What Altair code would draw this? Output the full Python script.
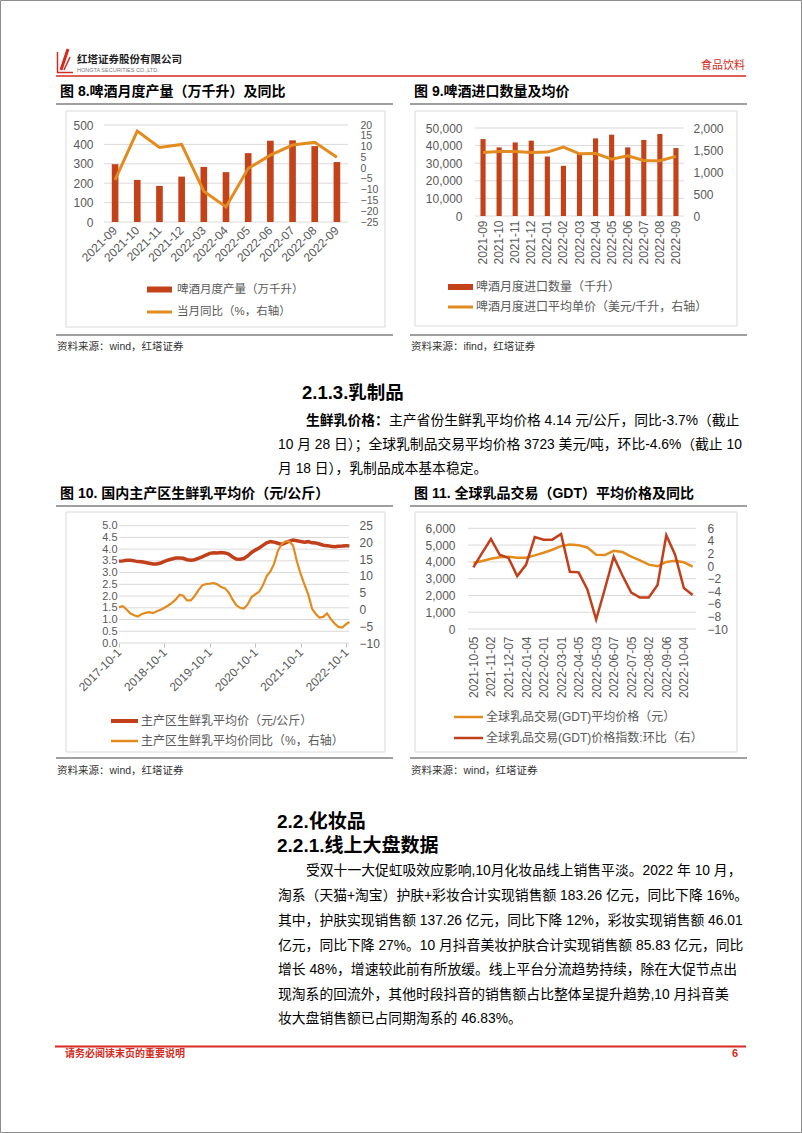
import altair as alt
import pandas as pd

W, H = 802, 1133
NUM_FONT = "Liberation Sans, Arial, sans-serif"
MIX_FONT = "Liberation Sans, Noto Sans CJK SC, sans-serif"
AX = "#595959"
GRID = "#D9D9D9"
BAR = "#C4421A"
ORANGE = "#E38B1E"
RED = "#C23F1B"
HDR_RED = "#D42A20"

# ---------------- data ----------------
beer_months = ["2021-09", "2021-10", "2021-11", "2021-12", "2022-03", "2022-04",
               "2022-05", "2022-06", "2022-07", "2022-08", "2022-09"]
beer_output = [298, 217, 186, 234, 284, 257, 355, 419, 421, 391, 309]
beer_yoy = [-5.5, 17.2, 9.6, 11.0, -10.7, -18.0, -0.2, 6.0, 10.7, 12.0, 5.0]
beer_left_ticks = [0, 100, 200, 300, 400, 500]
beer_right_ticks = [-25, -20, -15, -10, -5, 0, 5, 10, 15, 20]

imp_months = ["2021-09", "2021-10", "2021-11", "2021-12", "2022-01", "2022-02", "2022-03",
              "2022-04", "2022-05", "2022-06", "2022-07", "2022-08", "2022-09"]
imp_volume = [43700, 39000, 41800, 42800, 33800, 28500, 35200, 44100, 46200, 39000, 43200, 46600, 38600]
imp_price = [1445, 1468, 1468, 1445, 1452, 1567, 1414, 1422, 1293, 1369, 1262, 1255, 1354]
imp_left_ticks = [0, 10000, 20000, 30000, 40000, 50000]
imp_right_ticks = [0, 500, 1000, 1500, 2000]

milk_dates = [f"{y}/{m:02d}/01" for y, m in
              [(2017, 10), (2017, 11), (2017, 12)] +
              [(y, m) for y in (2018, 2019, 2020, 2021) for m in range(1, 13)] +
              [(2022, m) for m in range(1, 11)]] + ["2022/10/28"]
milk_price = [3.48, 3.50, 3.53,
              3.53, 3.50, 3.47, 3.46, 3.43, 3.40, 3.37, 3.37, 3.41, 3.48, 3.54, 3.58,
              3.62, 3.62, 3.61, 3.55, 3.53, 3.55, 3.61, 3.67, 3.75, 3.82, 3.85, 3.84,
              3.86, 3.84, 3.79, 3.67, 3.58, 3.57, 3.60, 3.71, 3.86, 3.96, 4.05, 4.16,
              4.27, 4.32, 4.30, 4.25, 4.20, 4.27, 4.34, 4.39, 4.36, 4.33, 4.30, 4.32,
              4.27, 4.26, 4.22, 4.17, 4.15, 4.12, 4.10, 4.12, 4.13, 4.15, 4.14]
milk_yoy = [0.7, 1.0, 0.0,
            -1.2, -1.7, -2.1, -1.4, -1.0, -0.8, -1.1, -0.5, -0.1, 0.5, 1.2, 2.0,
            3.0, 4.4, 4.1, 2.7, 2.7, 4.0, 5.7, 7.2, 7.6, 7.7, 7.9, 7.5,
            6.7, 6.3, 5.1, 3.0, 1.3, 0.5, 0.3, 1.5, 3.7, 4.5, 5.3, 7.2,
            10.0, 11.4, 13.6, 17.5, 19.5, 20.3, 20.3, 19.1, 14.3, 10.6, 7.4, 4.5,
            0.2, -1.4, -2.4, -2.2, -1.2, -2.9, -4.2, -5.2, -5.4, -4.4, -3.7]
milk_left_ticks = [0, 0.5, 1.0, 1.5, 2.0, 2.5, 3.0, 3.5, 4.0, 4.5, 5.0]
milk_right_ticks = [-10, -5, 0, 5, 10, 15, 20, 25]
milk_year_ticks = [2017, 2018, 2019, 2020, 2021, 2022]

gdt_dates = ["2021-10-05", "2021-10-19", "2021-11-02", "2021-11-16", "2021-12-07", "2021-12-21",
             "2022-01-04", "2022-01-18", "2022-02-01", "2022-02-15", "2022-03-01", "2022-03-15",
             "2022-04-05", "2022-04-19", "2022-05-03", "2022-05-17", "2022-06-07", "2022-06-21",
             "2022-07-05", "2022-07-19", "2022-08-02", "2022-08-16", "2022-09-06", "2022-09-20",
             "2022-10-04", "2022-10-18"]
gdt_price = [3934, 4052, 4190, 4269, 4308, 4249, 4249, 4387, 4544, 4721, 4938, 5036, 4997,
             4859, 4426, 4407, 4662, 4584, 4308, 4092, 3836, 3738, 3993, 4072, 3974, 3723]
gdt_chg = [-0.2, 2.1, 4.3, 1.8, 1.3, -1.6, 0.2, 4.6, 4.2, 4.2, 5.1, -0.9, -1.0,
           -3.7, -8.5, -3.6, 1.5, -1.5, -4.2, -5.0, -5.0, -3.0, 4.9, 1.8, -3.5, -4.6]
gdt_left_ticks = [0, 1000, 2000, 3000, 4000, 5000, 6000]
gdt_right_ticks = [-10, -8, -6, -4, -2, 0, 2, 4, 6]


# ---------------- helpers ----------------
def one():
    return pd.DataFrame({"t": [""]})


def T(text, x, y, size=12, color="#000000", weight="normal", align="left", font=MIX_FONT):
    return alt.Chart(pd.DataFrame({"t": [text]})).mark_text(
        align=align, baseline="middle", fontSize=size, font=font, fontWeight=weight, color=color
    ).encode(text="t:N", x=alt.value(x), y=alt.value(y))


def R(x, y, x2, y2, color, width=1.0):
    return alt.Chart(one()).mark_rule(color=color, strokeWidth=width).encode(
        x=alt.value(x), x2=alt.value(x2), y=alt.value(y), y2=alt.value(y2))


def BOX(x, y, x2, y2, stroke=None, fill=None, sw=1.0):
    kw = {"strokeWidth": sw}
    kw["fill"] = fill if fill else "transparent"
    if stroke:
        kw["stroke"] = stroke
    return alt.Chart(one()).mark_rect(**kw).encode(
        x=alt.value(x), x2=alt.value(x2), y=alt.value(y), y2=alt.value(y2))


def yaxis(orient, pos, values, fmt=None, pad=10, size=12):
    kw = dict(orient=orient, offset=(-pos if orient == "left" else pos - W), values=values,
              ticks=False, domain=False, grid=False, labelPadding=pad, labelFont=NUM_FONT,
              labelFontSize=size, labelColor=AX, labelOverlap=False, labelFlush=False, title=None)
    if fmt:
        kw["format"] = fmt
    return alt.Axis(**kw)


def xaxis(pos, angle, pad, values=None, fmt=None, ticks=False):
    kw = dict(orient="bottom", offset=pos - H, labelAngle=angle, labelAlign="right",
              labelBaseline="middle", labelPadding=pad, ticks=ticks, domain=False, grid=False,
              labelFont=NUM_FONT, labelFontSize=12, labelColor=AX, labelOverlap=False,
              labelFlush=False, title=None)
    if ticks:
        kw["tickColor"] = "#BFBFBF"
        kw["tickSize"] = 4
    if values is not None:
        kw["values"] = values
    if fmt:
        kw["format"] = fmt
    return alt.Axis(**kw)


def grid(values, domain, rng, x1, x2):
    return alt.Chart(pd.DataFrame({"g": values})).mark_rule(color=GRID, strokeWidth=1).encode(
        y=alt.Y("g:Q", scale=alt.Scale(domain=domain, range=rng, nice=False, zero=False), axis=None),
        x=alt.value(x1), x2=alt.value(x2))


layers = []

# ---------------- page frame / header / footer ----------------
layers.append(BOX(0.5, 0.5, W - 0.5, H - 0.5, stroke="#8C8C8C", sw=1))
layers += [
    R(57.5, 52, 57.5, 73, HDR_RED, 1.5),
    R(57, 72.5, 73, 72.5, HDR_RED, 1.5),
    R(61, 70, 68, 49, HDR_RED, 3),
    R(64, 70, 70, 57, HDR_RED, 1.5),
]
layers.append(T("红塔证券股份有限公司", 77, 60, size=10.5, color="#222222", weight="bold"))
layers.append(T("HONGTA SECURITIES  CO.,LTD.", 77, 69.5, size=5.5, color="#777777", font=NUM_FONT))
layers.append(T("食品饮料", 745, 66, size=11, color=HDR_RED, align="right"))
layers.append(R(56, 76, 746, 76, HDR_RED, 1.5))

layers.append(R(55, 1046.5, 746, 1046.5, HDR_RED, 2))
layers.append(T("请务必阅读末页的重要说明", 65, 1054, size=10, color=HDR_RED, weight="bold"))
layers.append(T("6", 738, 1054, size=11, color=HDR_RED, weight="bold", align="right"))

# ---------------- figure titles, frames and sources ----------------
for (xl, xr, xt, xs, ytitle, yline1, ybox1, ybox2, yline2, ysrc, title, src) in [
    (56, 393, 60, 57, 92, 104, 111, 327, 335, 347, "图 8.啤酒月度产量（万千升）及同比", "资料来源：wind，红塔证券"),
    (410, 747, 414, 411, 92, 104, 111, 326, 335, 347, "图 9.啤酒进口数量及均价", "资料来源：ifind，红塔证券"),
    (56, 393, 60, 57, 494, 506, 512, 752, 758, 771, "图 10. 国内主产区生鲜乳平均价（元/公斤）", "资料来源：wind，红塔证券"),
    (410, 747, 414, 411, 494, 506, 512, 752, 758, 771, "图 11. 全球乳品交易（GDT）平均价格及同比", "资料来源：wind，红塔证券"),
]:
    layers.append(T(title, xt, ytitle, size=14, weight="bold"))
    layers.append(R(xl, yline1, xr, yline1, "#7F7F7F", 1.5))
    bx1 = 66 if xl < 400 else 415
    bx2 = 385 if xl < 400 else 737
    layers.append(BOX(bx1, ybox1, bx2, ybox2, stroke="#D9D9D9", sw=1))
    layers.append(R(xl, yline2, xr, yline2, "#7F7F7F", 1.5))
    layers.append(T(src, xs, ysrc, size=10.5, color="#333333"))

# ---------------- Fig 8 ----------------
df8 = pd.DataFrame({"m": beer_months, "v": beer_output, "yoy": beer_yoy})
s8x = alt.Scale(type="band", domain=beer_months, range=[104, 348], paddingInner=0.7, paddingOuter=0.35)
s8l = alt.Scale(domain=[0, 500], range=[222, 125], nice=False, zero=False)
s8r = alt.Scale(domain=[-25, 20], range=[222, 125], nice=False, zero=False)
layers.append(grid(beer_left_ticks, [0, 500], [222, 125], 104, 348))
layers.append(alt.Chart(df8).mark_bar(color=BAR).encode(
    x=alt.X("m:N", scale=s8x, sort=None, axis=xaxis(222, -45, 6)),
    y=alt.Y("v:Q", scale=s8l, axis=yaxis("left", 104, beer_left_ticks, pad=11))))
layers.append(alt.Chart(df8).mark_line(color=ORANGE, strokeWidth=3).encode(
    x=alt.X("m:N", scale=s8x, sort=None, axis=None),
    y=alt.Y("yoy:Q", scale=s8r, axis=yaxis("right", 348, beer_right_ticks, pad=12, size=10.5))))
layers.append(BOX(147, 286.5, 172, 292.5, fill=BAR, sw=0))
layers.append(T("啤酒月度产量（万千升）", 177, 289.5, size=11.5, color=AX))
layers.append(R(147, 312, 172, 312, ORANGE, 3))
layers.append(T("当月同比（%，右轴）", 177, 312, size=11.5, color=AX))

# ---------------- Fig 9 ----------------
df9 = pd.DataFrame({"m": imp_months, "v": imp_volume, "p": imp_price})
s9x = alt.Scale(type="band", domain=imp_months, range=[475, 684], paddingInner=0.68, paddingOuter=0.34)
s9l = alt.Scale(domain=[0, 50000], range=[216, 128], nice=False, zero=False)
s9r = alt.Scale(domain=[0, 2000], range=[216, 128], nice=False, zero=False)
layers.append(grid(imp_left_ticks, [0, 50000], [216, 128], 475, 684))
layers.append(alt.Chart(df9).mark_bar(color=BAR).encode(
    x=alt.X("m:N", scale=s9x, sort=None, axis=xaxis(216, -90, 4)),
    y=alt.Y("v:Q", scale=s9l, axis=yaxis("left", 475, imp_left_ticks, fmt=",d", pad=13))))
layers.append(alt.Chart(df9).mark_line(color=ORANGE, strokeWidth=3).encode(
    x=alt.X("m:N", scale=s9x, sort=None, axis=None),
    y=alt.Y("p:Q", scale=s9r, axis=yaxis("right", 684, imp_right_ticks, fmt=",d", pad=9))))
layers.append(BOX(448, 284, 473, 290, fill=BAR, sw=0))
layers.append(T("啤酒月度进口数量（千升）", 476, 287, size=12, color=AX))
layers.append(R(448, 307, 473, 307, ORANGE, 3))
layers.append(T("啤酒月度进口平均单价（美元/千升，右轴）", 476, 307, size=12, color=AX))

# ---------------- Fig 10 ----------------
df10 = pd.DataFrame({"d": milk_dates, "p": milk_price, "y": milk_yoy})
s10x = alt.Scale(domain=[alt.DateTime(year=2017, month=10, date=1),
                         alt.DateTime(year=2022, month=10, date=28)], range=[119, 349.4])
s10l = alt.Scale(domain=[0, 5], range=[643, 525.7], nice=False, zero=False)
s10r = alt.Scale(domain=[-10, 25], range=[643, 525.7], nice=False, zero=False)
x10_vals = [alt.DateTime(year=y, month=10, date=1) for y in milk_year_ticks]
layers.append(grid(milk_left_ticks, [0, 5], [643, 525.7], 119, 349))
layers.append(alt.Chart(df10).mark_line(color=RED, strokeWidth=3.5).encode(
    x=alt.X("d:T", scale=s10x, axis=xaxis(643, -45, 3, values=x10_vals, fmt="%Y-%-m-%-d", ticks=True)),
    y=alt.Y("p:Q", scale=s10l, axis=yaxis("left", 119, milk_left_ticks, fmt=".1f", pad=2, size=11))))
layers.append(alt.Chart(df10).mark_line(color=ORANGE, strokeWidth=2.2).encode(
    x=alt.X("d:T", scale=s10x, axis=None),
    y=alt.Y("y:Q", scale=s10r, axis=yaxis("right", 349, milk_right_ticks, pad=10))))
layers.append(R(111, 721, 138, 721, RED, 4))
layers.append(T("主产区生鲜乳平均价（元/公斤）", 141, 721, size=12, color=AX))
layers.append(R(111, 741, 138, 741, ORANGE, 2.5))
layers.append(T("主产区生鲜乳平均价同比（%，右轴）", 141, 741, size=12, color=AX))

# ---------------- Fig 11 ----------------
df11 = pd.DataFrame({"d": gdt_dates, "p": gdt_price, "c": gdt_chg})
s11x = alt.Scale(type="point", domain=gdt_dates, range=[469, 697], padding=0.5)
s11l = alt.Scale(domain=[0, 6000], range=[629, 528.3], nice=False, zero=False)
s11r = alt.Scale(domain=[-10, 6], range=[629, 528.3], nice=False, zero=False)
layers.append(grid(gdt_left_ticks, [0, 6000], [629, 528.3], 468, 696))
layers.append(alt.Chart(df11).mark_line(color=ORANGE, strokeWidth=2.5).encode(
    x=alt.X("d:O", scale=s11x, sort=None, axis=xaxis(629, -90, 7, values=gdt_dates[::2])),
    y=alt.Y("p:Q", scale=s11l, axis=yaxis("left", 468, gdt_left_ticks, fmt=",d", pad=13))))
layers.append(alt.Chart(df11).mark_line(color=RED, strokeWidth=2.5).encode(
    x=alt.X("d:O", scale=s11x, sort=None, axis=None),
    y=alt.Y("c:Q", scale=s11r, axis=yaxis("right", 696, gdt_right_ticks, pad=11))))
layers.append(R(454, 717, 483, 717, ORANGE, 2.5))
layers.append(T("全球乳品交易(GDT)平均价格（元）", 486, 717, size=12, color=AX))
layers.append(R(454, 738, 483, 738, RED, 2.5))
layers.append(T("全球乳品交易(GDT)价格指数:环比（右）", 486, 738, size=12, color=AX))

# ---------------- body text ----------------
BODY = 13.8
layers.append(T("2.1.3.乳制品", 302, 393, size=18.5, weight="bold"))
layers.append(T("生鲜乳价格：", 306, 421, size=BODY, weight="bold"))
layers.append(T("主产省份生鲜乳平均价格 4.14 元/公斤，同比-3.7%（截止", 389, 421, size=BODY))
layers.append(T("10 月 28 日）；全球乳制品交易平均价格 3723 美元/吨，环比-4.6%（截止 10", 278, 445, size=BODY))
layers.append(T("月 18 日），乳制品成本基本稳定。", 278, 469, size=BODY))

layers.append(T("2.2.化妆品", 277, 822, size=19, weight="bold"))
layers.append(T("2.2.1.线上大盘数据", 277, 846, size=19, weight="bold"))
para = [
    (306, 871, "受双十一大促虹吸效应影响,10月化妆品线上销售平淡。2022 年 10 月，"),
    (278, 896, "淘系（天猫+淘宝）护肤+彩妆合计实现销售额 183.26 亿元，同比下降 16%。"),
    (278, 921, "其中，护肤实现销售额 137.26 亿元，同比下降 12%，彩妆实现销售额 46.01"),
    (278, 946, "亿元，同比下降 27%。10 月抖音美妆护肤合计实现销售额 85.83 亿元，同比"),
    (278, 970, "增长 48%，增速较此前有所放缓。线上平台分流趋势持续，除在大促节点出"),
    (278, 995, "现淘系的回流外，其他时段抖音的销售额占比整体呈提升趋势,10 月抖音美"),
    (278, 1019, "妆大盘销售额已占同期淘系的 46.83%。"),
]
for x, y, s in para:
    layers.append(T(s, x, y, size=BODY))

chart = alt.layer(*layers).resolve_scale(
    x="independent", y="independent"
).resolve_axis(
    x="independent", y="independent"
).properties(
    width=W, height=H, autosize=alt.AutoSizeParams(type="none"), padding=0, background="white"
).configure_view(stroke=None)

chart.save("out.html", embed_options={"renderer": "svg", "actions": False})
